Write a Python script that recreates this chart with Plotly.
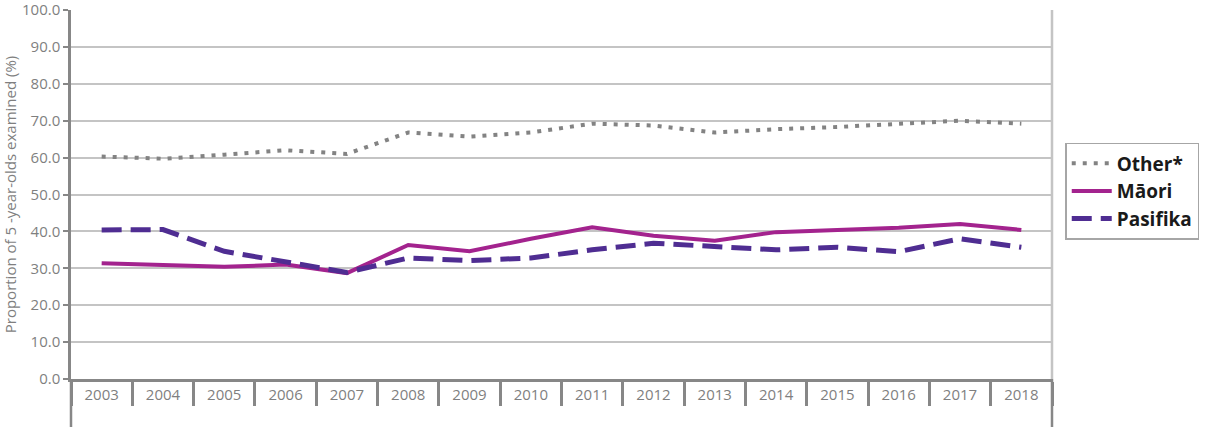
import plotly.graph_objects as go

years = [str(y) for y in range(2003, 2019)]
other = [60.3, 59.7, 60.8, 62.0, 61.0, 66.8, 65.7, 66.8, 69.2, 68.7, 66.8, 67.7, 68.3, 69.2, 70.0, 69.2]
maori = [31.4, 30.9, 30.4, 31.0, 28.7, 36.3, 34.6, 38.0, 41.1, 38.8, 37.5, 39.8, 40.5, 41.0, 42.0, 40.4]
pasifika = [40.4, 40.5, 34.6, 31.8, 28.9, 32.8, 32.1, 32.8, 35.0, 36.8, 36.0, 35.0, 35.7, 34.5, 38.0, 35.7]

grey = "#7f7f7f"

fig = go.Figure()
fig.add_trace(go.Scatter(x=years, y=other, name="Other*", mode="lines",
                         line=dict(color="#838383", width=4, dash="4px,7px")))
fig.add_trace(go.Scatter(x=years, y=maori, name="Māori", mode="lines",
                         line=dict(color="#a3238e", width=4)))
fig.add_trace(go.Scatter(x=years, y=pasifika, name="Pasifika", mode="lines",
                         line=dict(color="#4f2d92", width=5, dash="20px,9px")))

fig.update_layout(
    width=1210, height=427,
    margin=dict(l=71, r=158, t=10, b=48, autoexpand=False),
    plot_bgcolor="white", paper_bgcolor="white",
    font=dict(family="Open Sans, sans-serif", color=grey),
    legend=dict(x=1.0135, y=0.64, xanchor="left", yanchor="top",
                bordercolor="#a6a6a6", borderwidth=1.5,
                font=dict(size=19, color="#1a1a1a", family="Open Sans, sans-serif", weight=700),
                itemwidth=40, tracegroupgap=0),
    showlegend=True,
)
fig.update_yaxes(range=[0, 100], dtick=10, tickformat=".1f", automargin=False,
                 ticklabeloverflow="allow",
                 showgrid=True, gridcolor="#c4c4c4", gridwidth=2,
                 showline=True, linecolor="#878787", linewidth=2.5,
                 ticks="outside", ticklen=5, tickcolor="#878787", tickwidth=2,
                 tickfont=dict(size=15, color=grey), zeroline=False,
                 title=dict(text="Proportion of 5 -year-olds examined (%)",
                            font=dict(size=15, color=grey), standoff=5))
fig.update_xaxes(type="category", showgrid=False, automargin=False,
                 showline=True, linecolor="#878787", linewidth=2.5,
                 ticks="outside", tickson="boundaries", ticklen=24,
                 tickcolor="#878787", tickwidth=2.5,
                 tickfont=dict(size=15, color=grey), range=[-0.5, 15.5])

# right border of the plot area and outer separators down to the bottom
fig.add_shape(type="line", xref="paper", yref="paper", x0=1, x1=1, y0=0, y1=1,
              line=dict(color="#c4c4c4", width=2.5))
fig.add_shape(type="line", xref="paper", yref="paper", x0=0, x1=0, y0=0, y1=-0.135,
              line=dict(color="#878787", width=2.5))
fig.add_shape(type="line", xref="paper", yref="paper", x0=1, x1=1, y0=0, y1=-0.135,
              line=dict(color="#878787", width=2.5))

# drop the default page margin so the figure sits at the window corner
fig.write_html("out.html", config={"displayModeBar": False},
               post_script="document.body.style.margin='0';")
